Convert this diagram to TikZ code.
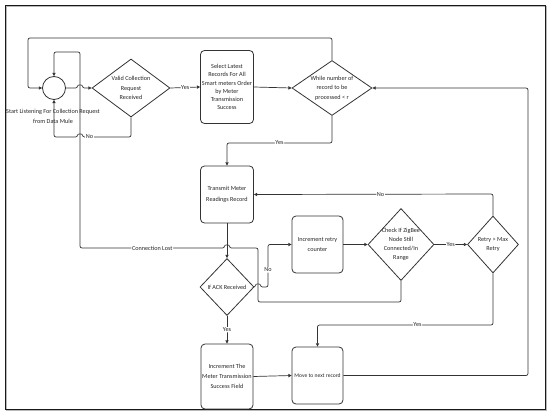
\documentclass[tikz,border=0pt]{standalone}
\usepackage{fontspec}
\setmainfont{Carlito}
\usetikzlibrary{shapes.geometric,arrows.meta}
\tikzset{
  every node/.style={font=\fontsize{6.2}{9.5}\selectfont, text=black!85},
  boxnode/.style={draw=black!80, line width=0.8pt, rounded corners=4pt, inner sep=0pt, align=center},
  dianode/.style={diamond, draw=black!80, line width=0.8pt, inner sep=0pt},
  txt/.style={align=center, inner sep=0pt},
  conn/.style={draw=black!80, line width=0.7pt, rounded corners=2pt},
  arr/.style={conn, -{Triangle[length=3.2pt,width=3.2pt]}},
  lbl/.style={fill=white, inner sep=0.6pt, font=\fontsize{6.2}{7}\selectfont}
}
\begin{document}
\begin{tikzpicture}[x=1pt,y=-1pt]
\useasboundingbox (0,0) rectangle (550,415);
% frame
\draw[gray!55, line width=1.4pt] (6.2,6.2) rectangle (546.2,410.2);
\draw[black!90, line width=0.9pt] (5,5) rectangle (545,409);

% nodes
\node[circle, draw=black!80, line width=0.8pt, minimum size=23pt, inner sep=0pt] (circ) at (54,88) {};
\node[txt, font=\fontsize{6.2}{10}\selectfont] (startlbl) at (53,116) {Start Listening For Collection Request\\from Data Mule};

\node[dianode, minimum width=78pt, minimum height=58pt] (valid) at (131,88) {};
\node[txt] (validt) at (valid) {Valid Collection\\Request\\Received};

\node[boxnode, minimum width=53pt, minimum height=73pt, font=\fontsize{6.2}{8.2}\selectfont] (select) at (227,87) {Select Latest\\Records For All\\Smart meters Order\\by Meter\\Transmission\\Success};

\node[dianode, minimum width=80pt, minimum height=55pt] (while) at (332,88) {};
\node[txt] (whilet) at (while) {While number of\\record to be\\processed < r};

\node[boxnode, minimum width=53pt, minimum height=57pt, font=\fontsize{6.2}{11.5}\selectfont] (transmit) at (227,194.5) {Transmit Meter\\Readings Record};

\node[dianode, minimum width=54pt, minimum height=57pt] (ifack) at (227,287) {};
\node[txt] (ifackt) at (ifack) {If ACK Received};

\node[boxnode, minimum width=51pt, minimum height=57pt, font=\fontsize{6.2}{10}\selectfont] (incr) at (317.5,244.5) {Increment retry\\counter};

\node[dianode, minimum width=66pt, minimum height=72pt] (check) at (401,244.5) {};
\node[txt, font=\fontsize{6.2}{9.2}\selectfont] (checkt) at (check) {Check If ZigBee\\Node Still\\Connected/In\\Range};

\node[dianode, minimum width=51pt, minimum height=57pt] (retry) at (493,244.5) {};
\node[txt] (retryt) at (retry) {Retry > Max\\Retry};

\node[boxnode, minimum width=52pt, minimum height=65pt, font=\fontsize{6.2}{10.3}\selectfont] (incmeter) at (227,376.5) {Increment The\\Meter Transmission\\Success Field};

\node[boxnode, minimum width=51pt, minimum height=57pt, font=\fontsize{5.6}{7}\selectfont] (move) at (317.5,375.5) {Move to next record};

% connectors
\draw[arr] (circ.east) -- (77.5,88) .. controls (77.5,84.6) and (82.5,84.6) .. (82.5,88) -- (valid.west);
\draw[arr] (valid.east) -- node[lbl]{Yes} (select.west);
\draw[arr] (select.east) -- (while.west);
\draw[arr] (while.south) -- (332,143) -- node[lbl, pos=0.5]{Yes} (227,143) -- (transmit.north);
\draw[arr] (while.north) -- (332,38) -- (28,38) -- (28,88) -- (circ.west);
\draw[arr] (valid.south) -- (131,137) -- (82.5,137) .. controls (82.5,133.6) and (77.5,133.6) .. (77.5,137) -- (54,137) -- (circ.south);
\node[lbl] at (89.5,137) {No};
\draw[arr] (transmit.south) -- (ifack.north);
\draw[arr] (check.south) -- (401,302) -- (258,302) -- (258,248) -- (229.5,248) .. controls (229.5,244.6) and (224.5,244.6) .. (224.5,248) -- node[lbl]{Connection Lost} (80,248) -- (80,52) -- (54,52) -- (circ.north);
\draw[arr] (ifack.east) -- (255.5,287) .. controls (255.5,283.6) and (260.5,283.6) .. (260.5,287) -- (268,287) -- node[lbl, pos=0.4]{No} (268,244.5) -- (incr.west);
\draw[arr] (incr.east) -- (check.west);
\draw[arr] (check.east) -- node[lbl]{Yes} (retry.west);
\draw[arr] (retry.north) -- (493,194) -- node[lbl, pos=0.47]{No} (transmit.east);
\draw[arr] (retry.south) -- (493,325) -- node[lbl, pos=0.43]{Yes} (317.5,325) -- (move.north);
\draw[arr] (ifack.south) -- node[lbl, pos=0.5]{Yes} (incmeter.north);
\draw[arr] (incmeter.east) -- (move.west);
\draw[arr] (move.east) -- (528,375.5) -- (528,88) -- (while.east);
\end{tikzpicture}
\end{document}
